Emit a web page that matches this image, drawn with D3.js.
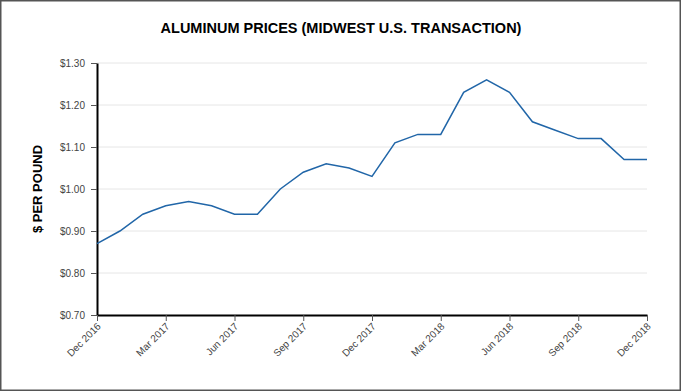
<!DOCTYPE html>
<html>
<head>
<meta charset="utf-8">
<script src="https://cdn.jsdelivr.net/npm/d3@7"></script>
<style>
  body { margin: 0; background: #fff; }
  svg { display: block; font-family: "Liberation Sans", Arial, sans-serif; }
</style>
</head>
<body>
<div id="chart"></div>
<script>
// monthly prices, Dec 2016 .. Dec 2018
const months = ["Dec 2016","Jan 2017","Feb 2017","Mar 2017","Apr 2017","May 2017","Jun 2017","Jul 2017","Aug 2017","Sep 2017","Oct 2017","Nov 2017","Dec 2017",
  "Jan 2018","Feb 2018","Mar 2018","Apr 2018","May 2018","Jun 2018","Jul 2018","Aug 2018","Sep 2018","Oct 2018","Nov 2018","Dec 2018"];
const prices = [0.87,0.90,0.94,0.96,0.97,0.96,0.94,0.94,1.00,1.04,1.06,1.05,1.03,
  1.11,1.13,1.13,1.23,1.26,1.23,1.16,1.14,1.12,1.12,1.07,1.07];
const yTicks = [0.70,0.80,0.90,1.00,1.10,1.20,1.30];
const xTickLabels = ["Dec 2016","Mar 2017","Jun 2017","Sep 2017","Dec 2017","Mar 2018","Jun 2018","Sep 2018","Dec 2018"];

const W = 682, H = 392;
const margin = { top: 63, right: 35, bottom: 77, left: 97 };
const width = W - margin.left - margin.right;
const height = H - margin.top - margin.bottom;

const svg = d3.select("#chart").append("svg")
  .attr("width", W).attr("height", H);

svg.append("rect")
  .attr("x", 0.75).attr("y", 0.75)
  .attr("width", W - 2.5).attr("height", H - 2.5)
  .attr("fill", "#fff").attr("stroke", "#555").attr("stroke-width", 1.5);

svg.append("text")
  .attr("x", 341).attr("y", 33)
  .attr("text-anchor", "middle")
  .attr("font-size", 14.5).attr("font-weight", "bold")
  .text("ALUMINUM PRICES (MIDWEST U.S. TRANSACTION)");

const g = svg.append("g").attr("transform", "translate(" + margin.left + "," + margin.top + ")");

// evenly spaced months
const x = d3.scalePoint().domain(months).range([0, width]);
const y = d3.scaleLinear().domain([0.70, 1.30]).range([height, 0]);

// gridlines
g.append("g").selectAll("line")
  .data(yTicks.slice(1))
  .join("line")
  .attr("x1", 0).attr("x2", width)
  .attr("y1", d => y(d)).attr("y2", d => y(d))
  .attr("stroke", "#e6e6e6").attr("stroke-width", 1);

// y axis
const yAxis = g.append("g")
  .call(d3.axisLeft(y).tickValues(yTicks).tickFormat(d => "$" + d.toFixed(2)).tickSize(6).tickSizeOuter(0));
yAxis.select(".domain").attr("stroke", "#000").attr("stroke-width", 2);
yAxis.selectAll(".tick line").attr("stroke", "#555");
yAxis.selectAll(".tick text").attr("font-size", 10).attr("fill", "#444")
  .attr("font-family", "Liberation Sans, Arial, sans-serif").attr("dx", -3);

// x axis
const xAxis = g.append("g").attr("transform", "translate(0," + height + ")")
  .call(d3.axisBottom(x).tickValues(xTickLabels).tickSize(6).tickSizeOuter(0));
xAxis.select(".domain").attr("stroke", "#000").attr("stroke-width", 2);
xAxis.selectAll(".tick line").attr("stroke", "#555");
xAxis.selectAll(".tick text")
  .attr("font-size", 10).attr("fill", "#444")
  .attr("font-family", "Liberation Sans, Arial, sans-serif")
  .attr("text-anchor", "end")
  .attr("dy", null).attr("y", 0)
  .attr("transform", "translate(4,12) rotate(-45)");

// y axis title
svg.append("text")
  .attr("transform", "translate(42," + (margin.top + height / 2) + ") rotate(-90)")
  .attr("text-anchor", "middle")
  .attr("font-size", 13).attr("font-weight", "bold")
  .text("$ PER POUND");

// price line
g.append("path")
  .datum(months.map((m, i) => ({ m: m, v: prices[i] })))
  .attr("fill", "none")
  .attr("stroke", "#2166a8")
  .attr("stroke-width", 1.5)
  .attr("d", d3.line().x(d => x(d.m)).y(d => y(d.v)));
</script>
</body>
</html>
